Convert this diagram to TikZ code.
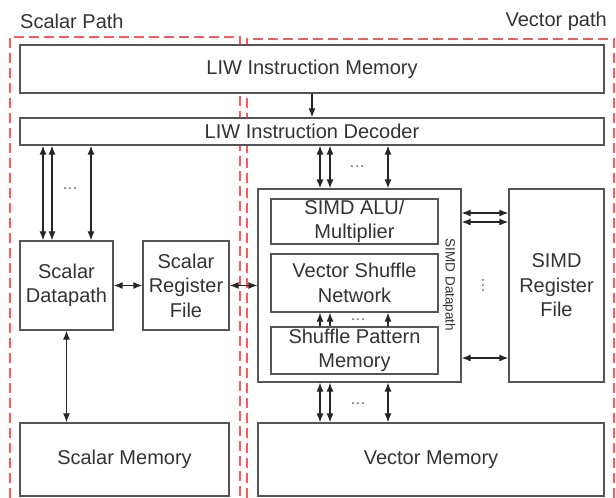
\documentclass[tikz,border=0pt]{standalone}
\usepackage{fontspec}
\setmainfont{Liberation Sans}
\usetikzlibrary{arrows.meta}
\definecolor{boxline}{HTML}{555555}
\definecolor{txt}{HTML}{333333}
\definecolor{zone}{HTML}{FF5A5A}
\tikzset{
  blk/.style={draw=boxline, fill=white, line width=1.3pt, inner sep=0pt, align=center,
    text=txt, font=\fontsize{20}{24.5}\selectfont},
  arr/.style={draw=black!85, line width=1.1pt, -{Latex[length=9pt,width=7pt]}},
  dbl/.style={draw=black!85, line width=1.1pt, {Latex[length=9pt,width=7pt]}-{Latex[length=9pt,width=7pt]}},
  zonebox/.style={draw=zone, line width=1.8pt, dash pattern=on 10pt off 5pt},
  dots/.style={text=black!60, font=\fontsize{16}{16}\selectfont, inner sep=0pt},
  title/.style={text=txt, font=\fontsize{20}{24}\selectfont, inner sep=0pt}
}
\begin{document}
\begin{tikzpicture}[x=1pt,y=-1pt]
\useasboundingbox (0,0) rectangle (616,498);

% path regions (drawn first, boxes cover them)
\draw[zonebox] (10,498) -- (10,37) -- (240,37) -- (240,498);
\draw[zonebox] (247,498) -- (247,39) -- (614,39) -- (614,498);
\node[title, anchor=west] (scalarlbl) at (20,21) {Scalar Path};
\node[title, anchor=east] (vectorlbl) at (607,21) {Vector path};

% instruction fetch and decode
\node[blk, minimum width=584pt, minimum height=48pt] (imem) at (312,69) {LIW Instruction Memory};
\node[blk, minimum width=584pt, minimum height=27pt] (idec) at (312,131.5) {LIW Instruction Decoder};

% scalar side
\node[blk, minimum width=93pt, minimum height=89pt] (sdp) at (66.5,285.5) {Scalar\\Datapath};
\node[blk, minimum width=86pt, minimum height=89pt] (srf) at (186,285.5) {Scalar\\Register\\File};
\node[blk, minimum width=209pt, minimum height=73pt] (smem) at (124.5,459.5) {Scalar Memory};

% vector side
\node[blk, minimum width=203pt, minimum height=193pt] (simd) at (359.5,285.5) {};
\node[blk, minimum width=167pt, minimum height=45pt] (alu) at (354.5,221.5) {SIMD ALU/\\Multiplier};
\node[blk, minimum width=167pt, minimum height=58pt] (vsn) at (354.5,283) {Vector Shuffle\\Network};
\node[blk, minimum width=167pt, minimum height=47pt] (spm) at (354.5,350.5) {Shuffle Pattern\\Memory};
\node[text=txt, font=\fontsize{13.5}{14}\selectfont, rotate=-90, inner sep=0pt] (simdlbl) at (449,285) {SIMD Datapath};
\node[blk, minimum width=95pt, minimum height=193pt] (vrf) at (556.5,285.5) {SIMD\\Register\\File};
\node[blk, minimum width=346pt, minimum height=73pt] (vmem) at (431,459.5) {Vector Memory};

% lane positions
\coordinate (sa) at (43,0);
\coordinate (sb) at (52,0);
\coordinate (sc) at (91,0);
\coordinate (va) at (320,0);
\coordinate (vb) at (330,0);
\coordinate (vc) at (388,0);
\coordinate (ra) at (0,213);
\coordinate (rb) at (0,222);
\coordinate (rc) at (0,358);

% connections
\draw[arr] (imem.south) -- (idec.north);
\foreach \l in {sa,sb,sc}
  \draw[dbl] (\l |- idec.south) -- (\l |- sdp.north);
\foreach \l in {va,vb,vc} {
  \draw[dbl] (\l |- idec.south) -- (\l |- simd.north);
  \draw[arr] (\l |- spm.north) -- (\l |- vsn.south);
  \draw[dbl] (\l |- simd.south) -- (\l |- vmem.north);
}
\foreach \r in {ra,rb,rc}
  \draw[dbl] (simd.east |- \r) -- (vrf.west |- \r);
\draw[dbl] (sdp.east) -- (srf.west);
\draw[dbl] (srf.east) -- (simd.west |- srf.east);
\draw[dbl] (sdp.south) -- (sdp.south |- smem.north);

% elided lanes
\node[dots] (d1) at (70,189) {…};
\node[dots] (d2) at (357,167) {…};
\node[dots] (d3) at (358,319.5) {…};
\node[dots] (d4) at (358,404) {…};
\node[dots, rotate=90] (d5) at (483,285) {…};
\end{tikzpicture}
\end{document}
